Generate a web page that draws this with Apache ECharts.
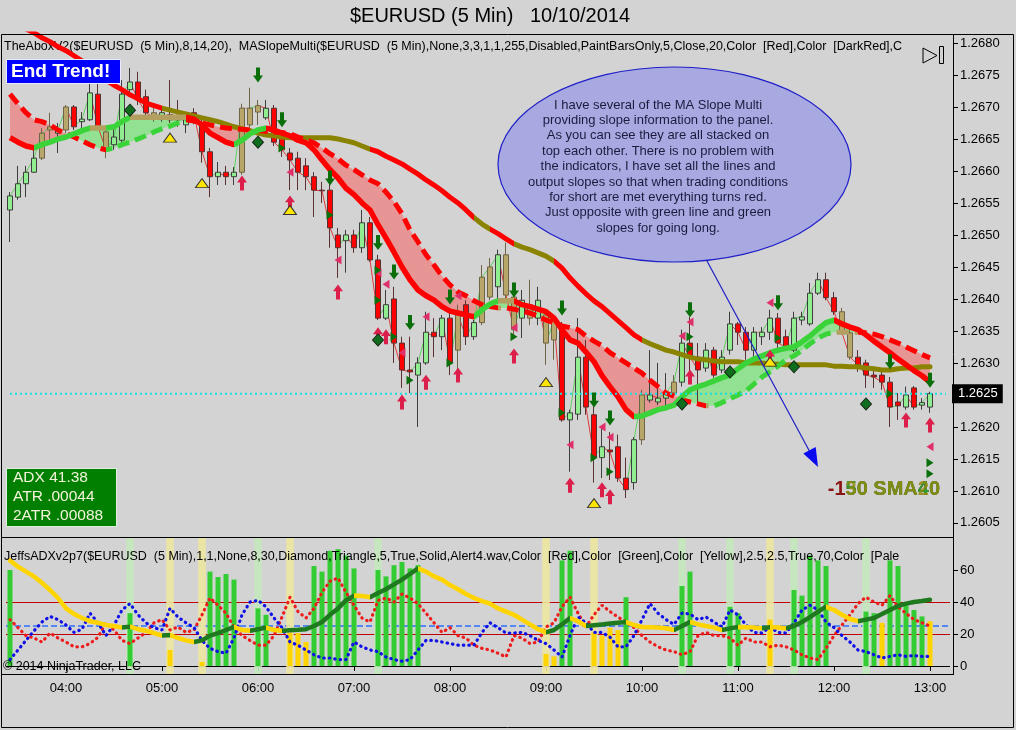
<!DOCTYPE html>
<html>
<head>
<meta charset="utf-8">
<title>$EURUSD (5 Min) 10/10/2014</title>
<script src="https://cdn.jsdelivr.net/npm/echarts@6.0.0/dist/echarts.min.js"></script>
<style>
html,body{margin:0;padding:0;background:#d3d3d3;}
#chart{width:1016px;height:730px;}
</style>
</head>
<body>
<div id="chart"></div>
<script>
// ---------------- DATA ----------------
// 5-minute bars from 03:25 to 13:00, [open, close, low, high]
const ohlc = [
[1.26539,1.26561,1.26489,1.26567],[1.26559,1.26580,1.26555,1.26608],[1.26580,1.26598,1.26559,1.26608],[1.26598,1.26620,1.26597,1.26633],
[1.26620,1.26659,1.26617,1.26667],[1.26664,1.26669,1.26644,1.26691],[1.26659,1.26664,1.26628,1.26675],[1.26664,1.26700,1.26659,1.26703],
[1.26700,1.26669,1.26664,1.26703],[1.26677,1.26681,1.26667,1.26692],[1.26680,1.26722,1.26678,1.26738],[1.26720,1.26669,1.26664,1.26738],
[1.26661,1.26633,1.26620,1.26667],[1.26641,1.26653,1.26633,1.26667],[1.26648,1.26720,1.26644,1.26742],[1.26727,1.26739,1.26722,1.26761],
[1.26739,1.26711,1.26703,1.26755],[1.26716,1.26691,1.26683,1.26727],[1.26691,1.26683,1.26677,1.26703],[1.26686,1.26691,1.26677,1.26698],
[1.26688,1.26680,1.26675,1.26742],[1.26683,1.26680,1.26669,1.26711],[1.26672,1.26680,1.26659,1.26692],[1.26691,1.26688,1.26673,1.26698],
[1.26672,1.26630,1.26613,1.26680],[1.26630,1.26591,1.26559,1.26636],[1.26591,1.26598,1.26578,1.26614],[1.26598,1.26591,1.26578,1.26608],
[1.26591,1.26598,1.26578,1.26606],[1.26598,1.26698,1.26594,1.26705],[1.26672,1.26698,1.26664,1.26730],[1.26692,1.26702,1.26672,1.26711],
[1.26683,1.26698,1.26680,1.26711],[1.26698,1.26645,1.26639,1.26703],[1.26652,1.26633,1.26622,1.26656],[1.26628,1.26617,1.26570,1.26636],
[1.26620,1.26598,1.26570,1.26630],[1.26608,1.26591,1.26570,1.26620],[1.26591,1.26570,1.26528,1.26598],[1.26570,1.26569,1.26550,1.26583],
[1.26570,1.26511,1.26480,1.26589],[1.26500,1.26480,1.26433,1.26511],[1.26491,1.26500,1.26441,1.26508],[1.26500,1.26480,1.26472,1.26508],
[1.26480,1.26519,1.26472,1.26539],[1.26519,1.26461,1.26458,1.26528],[1.26461,1.26370,1.26367,1.26469],[1.26370,1.26391,1.26367,1.26414],
[1.26400,1.26331,1.26300,1.26419],[1.26331,1.26289,1.26261,1.26341],[1.26289,1.26286,1.26253,1.26341],[1.26281,1.26300,1.26200,1.26309],
[1.26300,1.26348,1.26297,1.26380],[1.26348,1.26341,1.26309,1.26370],[1.26341,1.26370,1.26320,1.26375],[1.26370,1.26300,1.26281,1.26383],
[1.26320,1.26375,1.26289,1.26391],[1.26391,1.26341,1.26328,1.26398],[1.26341,1.26363,1.26336,1.26367],[1.26363,1.26434,1.26359,1.26453],
[1.26403,1.26450,1.26398,1.26464],[1.26419,1.26469,1.26394,1.26477],[1.26469,1.26406,1.26398,1.26488],[1.26403,1.26352,1.26339,1.26422],
[1.26370,1.26398,1.26339,1.26414],[1.26391,1.26370,1.26359,1.26430],[1.26370,1.26398,1.26359,1.26419],[1.26375,1.26331,1.26297,1.26383],
[1.26336,1.26367,1.26305,1.26375],[1.26355,1.26211,1.26208,1.26364],[1.26211,1.26222,1.26130,1.26227],[1.26220,1.26309,1.26211,1.26370],
[1.26309,1.26231,1.26219,1.26336],[1.26219,1.26153,1.26113,1.26242],[1.26152,1.26169,1.26120,1.26200],[1.26164,1.26161,1.26117,1.26192],
[1.26169,1.26120,1.26114,1.26188],[1.26120,1.26102,1.26089,1.26152],[1.26113,1.26180,1.26102,1.26184],[1.26180,1.26250,1.26172,1.26258],
[1.26242,1.26250,1.26238,1.26320],[1.26239,1.26245,1.26234,1.26300],[1.26245,1.26253,1.26234,1.26284],[1.26253,1.26270,1.26247,1.26281],
[1.26270,1.26331,1.26263,1.26352],[1.26331,1.26309,1.26281,1.26372],[1.26309,1.26289,1.26238,1.26331],[1.26292,1.26320,1.26286,1.26331],
[1.26320,1.26281,1.26277,1.26325],[1.26289,1.26309,1.26284,1.26320],[1.26320,1.26361,1.26313,1.26380],[1.26361,1.26348,1.26328,1.26364],
[1.26348,1.26320,1.26305,1.26356],[1.26320,1.26348,1.26305,1.26356],[1.26341,1.26348,1.26328,1.26356],[1.26348,1.26370,1.26336,1.26383],
[1.26370,1.26331,1.26323,1.26378],[1.26341,1.26325,1.26320,1.26352],[1.26320,1.26370,1.26317,1.26380],[1.26367,1.26372,1.26359,1.26380],
[1.26361,1.26409,1.26358,1.26425],[1.26409,1.26430,1.26406,1.26441],[1.26430,1.26402,1.26398,1.26441],[1.26402,1.26380,1.26375,1.26411],
[1.26380,1.26347,1.26344,1.26386],[1.26347,1.26309,1.26305,1.26352],[1.26309,1.26297,1.26286,1.26320],[1.26300,1.26281,1.26261,1.26305],
[1.26281,1.26278,1.26261,1.26289],[1.26281,1.26270,1.26258,1.26286],[1.26270,1.26231,1.26200,1.26278],[1.26239,1.26233,1.26211,1.26253],
[1.26231,1.26250,1.26227,1.26263],[1.26261,1.26231,1.26227,1.26264],[1.26234,1.26238,1.26227,1.26245],[1.26231,1.26252,1.26222,1.26255]
];
// bars painted neutral (khaki) by the PaintBars indicator
const neutralBars = [4,5,7,12,18,29,30,31,56,59,60,62,63,65,67,68,79,83,104,105];

// fast MA (solid), medium MA (dashed), slow MA (thick)
const fastMA = [
1.26652,1.26645,1.26639,1.26636,1.26641,1.26645,1.26650,1.26653,1.26658,1.26663,
1.26667,1.26667,1.26667,1.26669,1.26677,1.26684,1.26684,1.26684,1.26684,1.26684,
1.26684,1.26684,1.26684,1.26681,1.26672,1.26659,1.26652,1.26645,1.26641,1.26648,
1.26658,1.26664,1.26667,1.26664,1.26659,1.26655,1.26648,1.26644,1.26633,1.26617,
1.26602,1.26589,1.26573,1.26563,1.26550,1.26539,1.26516,1.26495,1.26473,1.26450,
1.26430,1.26414,1.26405,1.26398,1.26388,1.26381,1.26378,1.26375,1.26372,1.26383,
1.26392,1.26397,1.26397,1.26397,1.26391,1.26388,1.26384,1.26380,1.26370,1.26352,
1.26336,1.26331,1.26317,1.26302,1.26280,1.26263,1.26247,1.26227,1.26216,1.26217,
1.26222,1.26227,1.26230,1.26234,1.26247,1.26258,1.26263,1.26267,1.26272,1.26277,
1.26281,1.26291,1.26300,1.26306,1.26311,1.26316,1.26320,1.26323,1.26325,1.26333,
1.26342,1.26353,1.26363,1.26367,1.26361,1.26356,1.26352,1.26344,1.26334,1.26325,
1.26316,1.26306,1.26297,1.26288,1.26280,1.26270];
const medMA = [
1.26720,1.26705,1.26691,1.26680,1.26677,1.26672,1.26664,1.26658,1.26653,1.26647,
1.26641,1.26636,1.26633,1.26636,1.26641,1.26645,1.26650,1.26655,1.26661,1.26666,
1.26670,1.26675,1.26680,1.26678,1.26675,1.26672,1.26669,1.26667,1.26666,1.26665,
1.26664,1.26663,1.26662,1.26661,1.26660,1.26658,1.26653,1.26648,1.26644,1.26636,
1.26627,1.26619,1.26609,1.26602,1.26594,1.26586,1.26580,1.26567,1.26552,1.26533,
1.26508,1.26489,1.26469,1.26453,1.26436,1.26422,1.26411,1.26405,1.26397,1.26391,
1.26388,1.26386,1.26386,1.26384,1.26381,1.26378,1.26373,1.26367,1.26363,1.26358,
1.26355,1.26352,1.26342,1.26334,1.26327,1.26316,1.26308,1.26300,1.26292,1.26284,
1.26273,1.26263,1.26253,1.26248,1.26242,1.26239,1.26236,1.26233,1.26233,1.26238,
1.26244,1.26250,1.26256,1.26267,1.26278,1.26286,1.26295,1.26305,1.26311,1.26320,
1.26330,1.26339,1.26345,1.26348,1.26348,1.26348,1.26348,1.26347,1.26345,1.26341,
1.26336,1.26331,1.26325,1.26319,1.26313,1.26308];
const slowMA = [
1.26836,1.26828,1.26822,1.26816,1.26808,1.26802,1.26794,1.26788,1.26780,1.26772,
1.26763,1.26753,1.26742,1.26734,1.26727,1.26719,1.26713,1.26706,1.26702,1.26698,
1.26695,1.26692,1.26689,1.26686,1.26683,1.26680,1.26677,1.26673,1.26669,1.26666,
1.26663,1.26659,1.26656,1.26655,1.26653,1.26652,1.26652,1.26652,1.26652,1.26652,
1.26652,1.26650,1.26647,1.26644,1.26639,1.26634,1.26630,1.26623,1.26617,1.26611,
1.26603,1.26595,1.26586,1.26578,1.26569,1.26559,1.26550,1.26539,1.26527,1.26517,
1.26509,1.26502,1.26494,1.26486,1.26481,1.26477,1.26472,1.26467,1.26459,1.26448,
1.26433,1.26420,1.26408,1.26397,1.26388,1.26377,1.26366,1.26355,1.26344,1.26336,
1.26330,1.26325,1.26320,1.26317,1.26313,1.26309,1.26306,1.26305,1.26303,1.26302,
1.26302,1.26302,1.26300,1.26300,1.26300,1.26298,1.26298,1.26297,1.26297,1.26297,
1.26297,1.26297,1.26297,1.26295,1.26295,1.26294,1.26294,1.26292,1.26291,1.26289,
1.26289,1.26291,1.26292,1.26292,1.26294,1.26294];
// slope state runs of the slow MA: [fromBar, toBar, state]
const slowSlopeRuns = [[0,19,'down'],[19,45,'flat'],[45,58,'down'],[58,60,'flat'],[60,63,'down'],[63,68,'flat'],[68,79,'down'],[79,116,'flat']];

// signal markers: [barIndex, price]
const sellArrows = [[31,1.26750],[34,1.26680],[40,1.26589],[46,1.26488],[48,1.26442],[50,1.26363],[55,1.26403],[63,1.26414],[69,1.26386],[73,1.26242],[75,1.26214],[85,1.26383],[96,1.26394],[110,1.26302],[115,1.26273]];
const buyArrows = [[29,1.26581],[35,1.26550],[41,1.26411],[46,1.26344],[47,1.26341],[49,1.26239],[52,1.26270],[56,1.26281],[63,1.26311],[70,1.26109],[74,1.26102],[75,1.26091],[85,1.26278],[95,1.26309],[112,1.26211],[115,1.26203]];
const diamonds = [[15,1.26695],[31,1.26645],[46,1.26336],[84,1.26236],[90,1.26286],[98,1.26294],[107,1.26236]];
const warnTriangles = [[20,1.26652],[24,1.26581],[35,1.26539],[67,1.26270],[73,1.26081],[95,1.26302]];
const leftTicks = [[35,1.26598],[41,1.26461],[46,1.26441],[47,1.26423],[49,1.26316],[52,1.26372],[56,1.26405],[63,1.26355],[70,1.26172],[74,1.26200],[75,1.26184],[84,1.26342],[85,1.26364],[95,1.26394],[115,1.26169]];
const rightTicks = [[34,1.26636],[40,1.26531],[46,1.26445],[46,1.26398],[48,1.26341],[50,1.26273],[55,1.26300],[63,1.26341],[69,1.26222],[73,1.26152],[75,1.26130],[85,1.26341],[85,1.26323],[96,1.26339],[110,1.26252],[115,1.26144],[115,1.26127]];

// ADX panel
const adx = [
66,62,59,56,52,47.5,42.5,36,32.5,30,
28,27,25.6,25,24,24.6,23,22,20.6,19,
19.3,17.5,16,15,16,19,20.6,22.5,24.4,22.5,
22,23,24,22.5,22,22.3,22.6,23,25,27.5,
32,36,41,44,43.8,43,45.6,48,51,54,
57.5,61,59,56,54,50.6,48,45,42.5,40.6,
39,36,34,32,29,26,23,21,22.5,26,
30,28,25,25.5,26,26.5,27,27.5,25.6,24.4,
24.2,24,23.6,22.5,25,27.5,26,25,24,22.5,
23.5,24.4,24.2,24,23.6,24.3,24,23.6,25,27.5,
30.6,34,37,35,32,29.4,28,29,30,32.5,
35,37.5,39,40,40.6,41.38];
const diPlus = [
4,10,16,22,27.5,31,29,25.6,21,23,
33,27,19,25.6,35,39,32,27,24,22.5,
36,30.6,27,24,16,11,9,8,17.5,32,
40,41,37,30,24,15,13,10,7,5,
5,4,4,15,12,10,9,5.6,4,3,
4,10,16,16,15,14,13,13,13,21,
27,24,20.6,20.6,21,19,16,14,10,5.6,
19,30.6,27,21,21,18,12,12,19,29,
39,33,29,26,33,32.5,29,30.6,27.5,24.4,
35,32,25.6,21,20.6,24.4,21,20.6,27,35,
38,35,27.5,24,19,15,10,9,7,5,
6,7,6,6.5,6,6];
const diMinus = [
29,24,19,17.5,15,20.6,17.5,15,12,12,
14,18,27,22.5,16,14,17.5,21,27,29,
22.5,24.4,21,22.5,32,42.5,38,33,24.4,19,
16,13,13,19,30.6,43,34,30,36,46,
53,55,46,38,30,27.5,41,42.5,40,45,
42.5,39,33,27,21,24,19,17.5,13,11,
10,8,5.6,19,17.5,14,15,24.4,27,37,
43,33,24.4,32,38,34,30.6,27.5,24,19,
15,12,10,9,7,9,19,21,19,19,
17.5,13,17.5,15,15,12,13,12,10,7,
5,4,11,19,25.6,32,39,43,40,38,
44,37,33,29,27,25];
// histogram bars: [barIndex, value]
const trendBars = [[0,60],[15,33],[25,59],[26,55.6],[27,57.5],[28,54],[31,36],[32,32],[38,62.5],[39,59],[40,72],[41,73],[42,69],[43,61],[46,60],[47,56],[48,63],[49,65],[50,61],[51,63],[69,66],[70,72],[77,43],[84,50],[85,59],[90,37],[91,33],[98,47.5],[99,44],[100,69],[101,66],[102,62.5],[107,34],[108,33],[110,66],[111,62.5],[112,38],[113,35],[114,31]];
const weakBars = [[20,10],[24,2.5],[35,20.6],[36,20.6],[37,15],[67,7.5],[68,6],[73,21],[74,19],[75,24],[76,22.5],[95,29],[109,27],[115,28]];
const signalColsGreen = [15,31,46,84,90,98,107];
const signalColsYellow = [20,24,35,67,73,95];
const adxLevels = {low:20, mid:25, high:40};

const noteLines = ["I have several of the MA Slope Multi","providing slope information to the panel.","As you can see they are all stacked on","top each other. There is no problem with","the indicators, I have set all the lines and","output slopes so that when trading conditions","for short are met everything turns red.","Just opposite with green line and green","slopes for going long."];
const atr = 0.00044;

// ---------------- BUILD ----------------
const FONT = "'Liberation Sans', Arial, sans-serif";
const N = ohlc.length;
const times = [];
for (let k = 0; k < N + 2; k++) {
  const m = 3 * 60 + 25 + 5 * k;
  times.push(String(Math.floor(m / 60)).padStart(2, '0') + ':' + String(m % 60).padStart(2, '0'));
}
const lastClose = ohlc[N - 1][1];
const KH = '#b9a66a';
const neutral = new Set(neutralBars);
const candleData = ohlc.map((d, i) => neutral.has(i)
  ? {value: d, itemStyle: {color: KH, color0: KH, borderColor: '#6f6444', borderColor0: '#6f6444'}}
  : d);
const closes = ohlc.map(d => d[1]);

function slopeStates(arr, thr) {
  const s = [];
  for (let i = 0; i < arr.length - 1; i++) {
    const d = arr[i + 1] - arr[i];
    s.push(d > thr ? 'up' : (d < -thr ? 'down' : 'flat'));
  }
  return s;
}
function toPieces(states, colors) {
  const pieces = [];
  let start = 0;
  for (let i = 1; i <= states.length; i++) {
    if (i === states.length || states[i] !== states[start]) {
      pieces.push({gte: start, lt: i, color: colors[states[start]]});
      start = i;
    }
  }
  pieces[0].gte = -10;
  pieces[pieces.length - 1].lt = 1000;
  return pieces;
}
const RED = '#ff0000', GREEN = '#3ad43a', FLAT = '#b3a060', OLIVE = '#8a8300';
const fastStates = slopeStates(fastMA, 0.000005);
const medStates = slopeStates(medMA, 0.000005);
const closeStates = slopeStates(closes, 0);
const slowStates = [];
slowSlopeRuns.forEach(r => { for (let i = r[0]; i < Math.min(r[1], N - 1); i++) slowStates[i] = r[2]; });
const bandStates = [];
for (let i = 0; i < N - 1; i++) bandStates.push((fastMA[i] + fastMA[i + 1] - medMA[i] - medMA[i + 1]) > 0 ? 'up' : 'down');
const adxStates = [];
for (let i = 0; i < N - 1; i++) adxStates.push(adx[i + 1] > adx[i] ? 'up' : 'down');

const bandBase = fastMA.map((f, i) => Math.min(f, medMA[i]));
const bandDiff = fastMA.map((f, i) => Math.abs(f - medMA[i]));

function fullArray(pairs) {
  const a = new Array(N).fill(null);
  pairs.forEach(p => { a[p[0]] = p[1]; });
  return a;
}

const series = [];
const visualMaps = [];
function add(s) { series.push(s); return series.length - 1; }

// main panel
add({type: 'line', xAxisIndex: 0, yAxisIndex: 0, data: bandBase, stack: 'band', symbol: 'none',
     lineStyle: {width: 0, opacity: 0}, silent: true, z: 1});
let idx = add({type: 'line', xAxisIndex: 0, yAxisIndex: 0, data: bandDiff, stack: 'band', symbol: 'none',
     lineStyle: {width: 0, opacity: 0}, areaStyle: {opacity: 1}, silent: true, z: 1});
visualMaps.push({type: 'piecewise', show: false, dimension: 0, seriesIndex: idx,
  pieces: toPieces(bandStates, {up: 'rgba(125,230,125,0.75)', down: 'rgba(238,125,125,0.72)'})});

add({type: 'candlestick', xAxisIndex: 0, yAxisIndex: 0, data: candleData, barWidth: 5, z: 2,
  itemStyle: {color: '#90ee90', color0: '#ff0000', borderColor: '#3d3d3d', borderColor0: '#5a3030', borderWidth: 1}});

// thin swing line through closes
idx = add({type: 'line', xAxisIndex: 0, yAxisIndex: 0, data: closes, symbol: 'none', z: 2, silent: true,
  lineStyle: {width: 1, opacity: 0.9}});
visualMaps.push({type: 'piecewise', show: false, dimension: 0, seriesIndex: idx,
  pieces: toPieces(closeStates, {up: '#4fcf4f', down: '#e02828', flat: '#b08060'})});

// last price line (dotted cyan) across the panel
add({type: 'line', xAxisIndex: 0, yAxisIndex: 0, data: times.map(() => lastClose), symbol: 'none', z: 5, silent: true,
  lineStyle: {color: '#19e0e0', width: 2, type: [2, 3]},
  endLabel: {show: true, formatter: lastClose.toFixed(4), distance: 6, backgroundColor: '#000', color: '#fff',
    padding: [3, 5, 3, 6], fontSize: 13, fontFamily: FONT}});

idx = add({type: 'line', xAxisIndex: 0, yAxisIndex: 0, data: slowMA, symbol: 'none', z: 3, silent: true,
  lineStyle: {width: 5, cap: 'round'}});
visualMaps.push({type: 'piecewise', show: false, dimension: 0, seriesIndex: idx,
  pieces: toPieces(slowStates, {down: RED, flat: OLIVE})});

idx = add({type: 'line', xAxisIndex: 0, yAxisIndex: 0, data: medMA, symbol: 'none', z: 3, silent: true,
  lineStyle: {width: 5, type: [12, 6]}});
visualMaps.push({type: 'piecewise', show: false, dimension: 0, seriesIndex: idx,
  pieces: toPieces(medStates, {up: GREEN, down: RED, flat: FLAT})});

idx = add({type: 'line', xAxisIndex: 0, yAxisIndex: 0, data: fastMA, symbol: 'none', z: 3, silent: true,
  lineStyle: {width: 5.5}});
visualMaps.push({type: 'piecewise', show: false, dimension: 0, seriesIndex: idx,
  pieces: toPieces(fastStates, {up: GREEN, down: RED, flat: FLAT})});

function markers(data, symbol, size, color, border) {
  add({type: 'scatter', xAxisIndex: 0, yAxisIndex: 0, data: data, symbol: symbol, symbolSize: size, z: 6, silent: true,
    itemStyle: {color: color, borderColor: border || color, borderWidth: border ? 1 : 0, opacity: 1}});
}
markers(sellArrows, 'path://M3,0L7,0L7,7L10,7L5,13L0,7L3,7Z', [10, 15], '#0a6e0a');
markers(buyArrows, 'path://M5,0L10,6L7,6L7,13L3,13L3,6L0,6Z', [10, 15], '#dc1f4a');
markers(diamonds, 'diamond', [11, 12], '#0f6e1e', '#1a2a1a');
markers(warnTriangles, 'triangle', [13, 9], '#ffe600', '#333');
markers(leftTicks, 'path://M0,5L8,0L8,10Z', [7, 9], '#e0306a');
markers(rightTicks, 'path://M8,5L0,0L0,10Z', [7, 9], '#0a6e0a');

// lower panel
function colRender(color) {
  return function (params, api) {
    const x = api.coord([api.value(0), 0])[0];
    const w = api.size([1, 0])[0] * 0.95;
    const cs = params.coordSys;
    return {type: 'rect', shape: {x: x - w / 2, y: cs.y, width: w, height: cs.height}, style: {fill: color}};
  };
}
add({type: 'custom', xAxisIndex: 1, yAxisIndex: 1, data: signalColsGreen.map(i => [i]), encode: {x: 0},
  renderItem: colRender('rgba(196,232,188,0.9)'), z: 1, silent: true});
add({type: 'custom', xAxisIndex: 1, yAxisIndex: 1, data: signalColsYellow.map(i => [i]), encode: {x: 0},
  renderItem: colRender('rgba(236,230,160,0.9)'), z: 1, silent: true});
add({type: 'bar', xAxisIndex: 1, yAxisIndex: 1, data: fullArray(trendBars), barWidth: 5, barGap: '-100%', z: 2, silent: true,
  itemStyle: {color: '#33cc33'},
  markLine: {silent: true, symbol: 'none', z: 1, label: {show: false},
    data: [
      {yAxis: 0, lineStyle: {color: '#000', type: 'solid', width: 1}},
      {yAxis: adxLevels.low, lineStyle: {color: '#c00000', type: 'solid', width: 1}},
      {yAxis: adxLevels.high, lineStyle: {color: '#c00000', type: 'solid', width: 1}},
      {yAxis: adxLevels.mid, lineStyle: {color: '#2f6fff', type: [6, 3], width: 1.5}}
    ]}});
add({type: 'bar', xAxisIndex: 1, yAxisIndex: 1, data: fullArray(weakBars), barWidth: 5, barGap: '-100%', z: 2, silent: true,
  itemStyle: {color: '#ffd400'}});
add({type: 'line', xAxisIndex: 1, yAxisIndex: 1, data: diMinus, symbol: 'none', z: 3, silent: true,
  lineStyle: {color: '#ee1c1c', width: 3.2, type: [0.5, 5], cap: 'round'}});
add({type: 'line', xAxisIndex: 1, yAxisIndex: 1, data: diPlus, symbol: 'none', z: 3, silent: true,
  lineStyle: {color: '#1010e8', width: 3.2, type: [0.5, 5], cap: 'round'}});
idx = add({type: 'line', xAxisIndex: 1, yAxisIndex: 1, data: adx, symbol: 'none', z: 4, silent: true,
  lineStyle: {width: 4.5, cap: 'round'}});
visualMaps.push({type: 'piecewise', show: false, dimension: 0, seriesIndex: idx,
  pieces: toPieces(adxStates, {up: '#1f7a1f', down: '#ffd400'})});

const hourOnly = (i, v) => /:00$/.test(v);
const axisText = {color: '#000', fontSize: 13, fontFamily: FONT};

const txt = (x, y, text, extra) => ({type: 'text', x: x, y: y, z: 0,
  style: Object.assign({text: text, fill: '#000', font: '12.5px ' + FONT, textAlign: 'left', align: 'left',
    textVerticalAlign: 'middle', verticalAlign: 'middle'}, extra || {})});

const graphic = [
  txt(490, 16, '$EURUSD (5 Min)   10/10/2014', {font: '20px ' + FONT, textAlign: 'center', align: 'center'}),
  txt(4, 47, 'TheAboxV2($EURUSD  (5 Min),8,14,20),  MASlopeMulti($EURUSD  (5 Min),None,3,3,1,1,255,Disabled,PaintBarsOnly,5,Close,20,Color  [Red],Color  [DarkRed],C'),
  Object.assign(txt(4, 557, 'JeffsADXv2p7($EURUSD  (5 Min),1,1,None,8,30,Diamond,Triangle,5,True,Solid,Alert4.wav,Color  [Red],Color  [Green],Color  [Yellow],2.5,2.5,True,70,Color  [Pale'), {z: 20}),
  Object.assign(txt(3, 667, '\u00a9 2014 NinjaTrader, LLC'), {z: 20}),
  // frame
  {type: 'rect', z: 50, silent: true, shape: {x: 1.5, y: 34.5, width: 1012, height: 693}, style: {fill: null, stroke: '#000', lineWidth: 1}},
  {type: 'line', z: 50, silent: true, shape: {x1: 1, y1: 537.5, x2: 953, y2: 537.5}, style: {stroke: '#000', lineWidth: 1}},
  {type: 'line', z: 50, silent: true, shape: {x1: 1, y1: 674.5, x2: 953, y2: 674.5}, style: {stroke: '#000', lineWidth: 1}},
  {type: 'line', z: 50, silent: true, shape: {x1: 953.5, y1: 34, x2: 953.5, y2: 675}, style: {stroke: '#000', lineWidth: 1}},
  // play icon
  {type: 'polygon', z: 50, shape: {points: [[923, 48], [923, 63], [937, 55.5]]}, style: {fill: null, stroke: '#000', lineWidth: 1}},
  {type: 'rect', z: 50, shape: {x: 939.5, y: 46.5, width: 4, height: 17}, style: {fill: null, stroke: '#000', lineWidth: 1}},
  // End Trend box
  {type: 'rect', z: 60, shape: {x: 6.5, y: 59.5, width: 114, height: 24}, style: {fill: '#0000ff', stroke: '#e8e8ff', lineWidth: 1}},
  Object.assign(txt(11, 72, 'End Trend!', {fill: '#fff', font: 'bold 19px ' + FONT}), {z: 61}),
  // info box
  {type: 'rect', z: 60, shape: {x: 6.5, y: 468.5, width: 110, height: 58}, style: {fill: '#007f00', stroke: '#e0f0e0', lineWidth: 1}},
  Object.assign(txt(13, 478, 'ADX ' + adx[N - 1].toFixed(2), {fill: '#f4f4dc', font: '15.5px ' + FONT}), {z: 61}),
  Object.assign(txt(13, 497, 'ATR ' + atr.toFixed(5).replace(/^0/, ''), {fill: '#f4f4dc', font: '15.5px ' + FONT}), {z: 61}),
  Object.assign(txt(13, 516, '2ATR ' + (2 * atr).toFixed(5).replace(/^0/, ''), {fill: '#f4f4dc', font: '15.5px ' + FONT}), {z: 61}),
  // overlapping SMA labels
  Object.assign(txt(940, 489, '-150 SMA40', {fill: '#8b1414', font: 'bold 20px ' + FONT, textAlign: 'right', align: 'right'}), {z: 30}),
  Object.assign(txt(940, 489, '50 SMA40', {fill: '#2f9a2f', font: 'bold 20px ' + FONT, textAlign: 'right', align: 'right'}), {z: 31}),
  Object.assign(txt(940, 489, '30 SMA20', {fill: '#8f8a10', font: 'bold 20px ' + FONT, textAlign: 'right', align: 'right', opacity: 0.85}), {z: 32}),
  // note ellipse with arrow
  {type: 'ellipse', z: 40, shape: {cx: 674.5, cy: 164.5, rx: 176.5, ry: 97.5}, style: {fill: '#a9a9e2', stroke: '#1f1fc8', lineWidth: 1.2}},
  {type: 'line', z: 41, shape: {x1: 707, y1: 261, x2: 811, y2: 454}, style: {stroke: '#1f1fc8', lineWidth: 1.2}},
  {type: 'polygon', z: 41, shape: {points: [[818, 467], [803.3, 453.5], [815.7, 446.9]]}, style: {fill: '#0a0af0'}}
];
noteLines.forEach((t, k) => graphic.push(Object.assign(txt(658, 105 + 15.4 * k, t,
  {fill: '#1b1b3e', font: '13px ' + FONT, textAlign: 'center', align: 'center'}), {z: 42})));

const option = {
  backgroundColor: '#d3d3d3',
  animation: false,
  grid: [
    {left: 6, right: 66, top: 34, bottom: 193, show: false},
    {left: 6, right: 66, top: 538, bottom: 56, show: false}
  ],
  xAxis: [
    {type: 'category', gridIndex: 0, data: times, boundaryGap: true,
      axisLine: {show: false}, axisTick: {show: false}, axisLabel: {show: false}, splitLine: {show: false}},
    {type: 'category', gridIndex: 1, data: times, boundaryGap: true,
      axisLine: {show: false},
      axisTick: {show: true, interval: hourOnly, alignWithLabel: true, length: 5, lineStyle: {color: '#000'}},
      axisLabel: Object.assign({interval: hourOnly, margin: 8}, axisText), splitLine: {show: false}}
  ],
  yAxis: [
    {type: 'value', gridIndex: 0, position: 'right', offset: 3, min: 1.26028, max: 1.26814, splitNumber: 16,
      axisLine: {show: false}, splitLine: {show: false},
      axisTick: {show: true, length: 5, lineStyle: {color: '#000'}},
      axisLabel: Object.assign({formatter: v => v.toFixed(4), showMinLabel: false, showMaxLabel: false, margin: 7}, axisText)},
    {type: 'value', gridIndex: 1, position: 'right', offset: 3, min: -5, max: 80, splitNumber: 4,
      axisLine: {show: false}, splitLine: {show: false},
      axisTick: {show: true, length: 5, lineStyle: {color: '#000'}},
      axisLabel: Object.assign({showMinLabel: false, showMaxLabel: false, margin: 7}, axisText)}
  ],
  visualMap: visualMaps,
  series: series,
  graphic: graphic
};

const chart = echarts.init(document.getElementById('chart'), null, {renderer: 'canvas'});
chart.setOption(option);
</script>
</body>
</html>
